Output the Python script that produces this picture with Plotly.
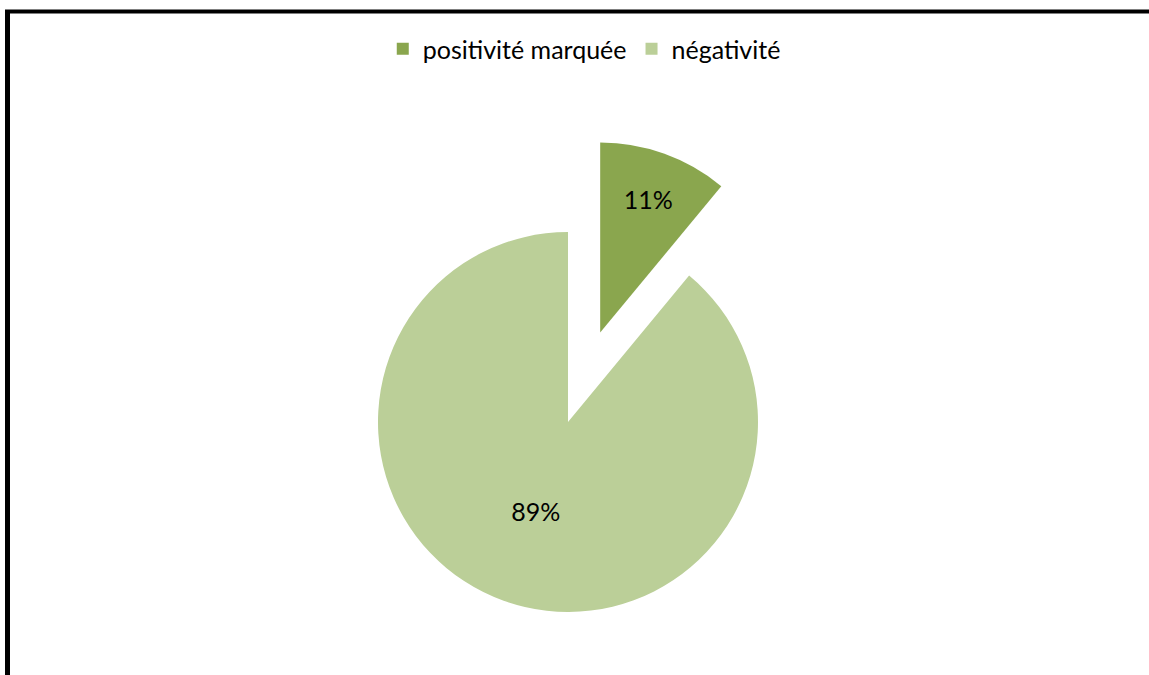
import math
import plotly.graph_objects as go

# ---- data ----
labels = ["positivité marquée", "négativité"]
values = [11, 89]
colors = ["#8AA64E", "#BBCF98"]

# ---- layout constants (pixels) ----
W, H = 1149, 675
cx, cy = 568, 422          # centre of the main pie (from top-left)
R = 190                    # pie radius
pull = 0.5                 # explode distance as fraction of radius
FONT = "Lato"
FS = 25
TRANSPARENT = "rgba(0,0,0,0)"


def domain_for(center_x, center_y, r):
    x0 = (center_x - r) / W
    x1 = (center_x + r) / W
    yb = H - center_y
    y0 = (yb - r) / H
    y1 = (yb + r) / H
    return dict(x=[x0, x1], y=[y0, y1])


# direction of the exploded slice (first slice, clockwise from 12 o'clock)
frac = values[0] / sum(values)
mid = math.radians(frac * 360 / 2)
ex_cx = cx + pull * R * math.sin(mid)
ex_cy = cy - pull * R * math.cos(mid)

fig = go.Figure()

# dummy trace only for the legend (zero-size domain)
fig.add_trace(go.Pie(
    labels=labels, values=values, sort=False, direction="clockwise", rotation=0,
    marker=dict(colors=colors, line=dict(width=0)),
    textinfo="none", hoverinfo="skip",
    domain=dict(x=[0, 0.0001], y=[0, 0.0001]),
    showlegend=True,
))

# main pie (large slice only)
fig.add_trace(go.Pie(
    labels=labels, values=values, sort=False, direction="clockwise", rotation=0,
    marker=dict(colors=[TRANSPARENT, colors[1]], line=dict(width=0)),
    texttemplate=["", "%{percent:.0%}"], textposition="inside",
    insidetextorientation="horizontal",
    textfont=dict(family=FONT, size=FS, color="black"),
    domain=domain_for(cx, cy, R),
    showlegend=False,
))

# exploded slice
fig.add_trace(go.Pie(
    labels=labels, values=values, sort=False, direction="clockwise", rotation=0,
    marker=dict(colors=[colors[0], TRANSPARENT], line=dict(width=0)),
    texttemplate=["%{percent:.0%}", ""], textposition="inside",
    insidetextorientation="horizontal",
    textfont=dict(family=FONT, size=FS, color="black"),
    domain=domain_for(ex_cx, ex_cy, R),
    showlegend=False,
))

fig.update_layout(
    width=W, height=H,
    margin=dict(l=0, r=0, t=0, b=0),
    paper_bgcolor="white", plot_bgcolor="white",
    font=dict(family=FONT, size=FS, color="black"),
    legend=dict(orientation="h", x=0.5085, xanchor="center",
                y=1 - 49 / H, yanchor="middle",
                font=dict(family=FONT, size=FS, color="black"),
                bgcolor="rgba(0,0,0,0)"),
    shapes=[
        dict(type="line", xref="paper", yref="paper",
             x0=5 / W, x1=1, y0=1 - 11.5 / H, y1=1 - 11.5 / H,
             line=dict(color="black", width=4)),
        dict(type="line", xref="paper", yref="paper",
             x0=7.5 / W, x1=7.5 / W, y0=0, y1=1 - 10 / H,
             line=dict(color="black", width=5)),
    ],
)

fig.write_html(
    "out.html",
    config={"displayModeBar": False},
    post_script="document.body.style.margin='0';document.body.style.overflow='hidden';",
)
